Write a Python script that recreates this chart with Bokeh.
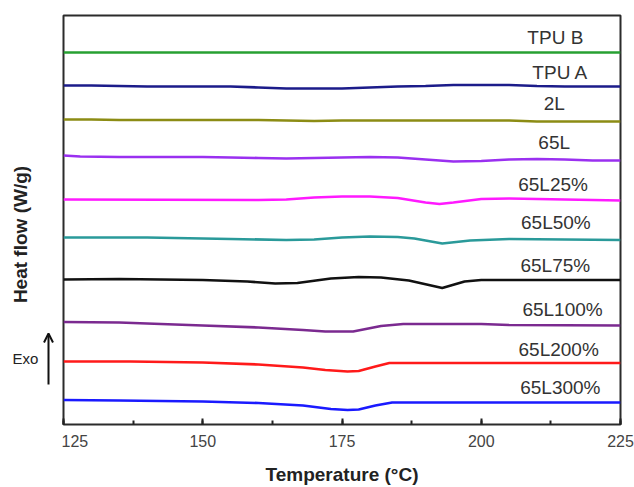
import math
from bokeh.plotting import figure
from bokeh.layouts import row
from bokeh.models import (Range1d, SingleIntervalTicker, Arrow, OpenHead, ColumnDataSource)
from bokeh.core.properties import value
from bokeh.embed import file_html
from bokeh.resources import INLINE

# ---- data (heat-flow traces, arbitrary units, stacked; larger = lower) ----
names = ["TPU B", "TPU A", "2L", "65L", "65L25%", "65L50%", "65L75%",
         "65L100%", "65L200%", "65L300%"]

tpub_t = [125, 225]
tpub_v = [52, 52]

tpua_t = [125, 130, 135, 140, 150, 155, 160, 165, 170, 175, 180, 185, 190, 195, 200, 205, 210, 215, 225]
tpua_v = [85, 85, 85.5, 86, 86, 86, 87, 88, 88, 88, 87, 86, 85.5, 84.5, 84.5, 84.5, 85.5, 86, 86]

l2_t = [125, 130, 135, 160, 165, 170, 175, 205, 210, 225]
l2_v = [119, 119, 119.5, 119.5, 120, 120.5, 120, 120, 121, 121]

l65_t = [125, 128, 135, 150, 155, 160, 165, 170, 175, 180, 185, 190, 195, 200, 205, 210, 215, 220, 225]
l65_v = [155, 156, 156.5, 156.5, 157, 157.5, 158, 157.5, 157, 156.5, 157, 159, 161, 160.5, 159, 158.5, 159, 160, 160]

l25_t = [125, 160, 165, 170, 175, 180, 185, 190, 192.5, 195, 200, 205, 210, 215, 220, 225]
l25_v = [199, 199.5, 199, 197, 196, 196, 197.5, 202, 203.5, 202, 198.5, 198, 198.5, 199, 199.5, 200]

l50_t = [125, 140, 145, 155, 165, 170, 175, 180, 185, 188, 193, 198, 205, 215, 225]
l50_v = [237, 237, 237.5, 238.5, 239.5, 239, 237, 236, 236.5, 238, 243, 240, 238.5, 239, 239.5]

l75_t = [125, 135, 150, 158, 163, 167, 173, 178, 182, 187, 193, 197, 200, 225]
l75_v = [279, 278.5, 279.5, 281, 283, 282.5, 278, 276.5, 277, 280, 287.5, 281, 279.5, 279.5]

l100_t = [125, 135, 150, 160, 168, 172, 177, 182, 186, 200, 205, 225]
l100_v = [321.5, 322, 325, 327, 329.5, 331, 331, 325.5, 323.5, 323.5, 324.5, 325]

l200_t = [125, 137, 150, 160, 168, 172, 176, 178, 181, 183.5, 225]
l200_v = [361, 361, 362, 364, 367, 369.5, 371, 370.5, 366, 362.5, 362.5]

l300_t = [125, 135, 150, 160, 168, 173, 176, 178, 181, 184, 225]
l300_v = [399.5, 400, 401, 402.5, 405, 408.5, 409.5, 409, 405, 402, 402]

series_t = [tpub_t, tpua_t, l2_t, l65_t, l25_t, l50_t, l75_t, l100_t, l200_t, l300_t]
series_v = [tpub_v, tpua_v, l2_v, l65_v, l25_v, l50_v, l75_v, l100_v, l200_v, l300_v]

x_ticks = [125, 150, 175, 200, 225]

# ---- styling ----
colors = ["#27a032", "#1c1c8a", "#8c8c14", "#9a30f0", "#ff1aff", "#2a9a9a",
          "#111111", "#7b2a90", "#ff1a1a", "#1a1aff"]
label_x = [213.3, 214.2, 213.1, 213.1, 212.9, 213.4, 213.3, 214.6, 213.9, 214.2]
label_y = [37, 72, 103, 142, 184, 222, 265, 309, 349, 387]

FONT = "Liberation Sans"
TOP, BOTTOM = 15, 63

# ---- left strip: y title, "Exo" and arrow (same vertical frame as the main plot) ----
side = figure(width=61, height=487, output_backend="svg", toolbar_location=None,
              x_range=Range1d(0, 61), y_range=Range1d(424, 15),
              min_border_left=0, min_border_right=0, min_border_top=TOP,
              min_border_bottom=BOTTOM, x_axis_location=None, y_axis_location=None)
side.grid.visible = False
side.outline_line_color = None
side.background_fill_color = "white"
side.border_fill_color = "white"
side.text(x=[20], y=[234], text=["Heat flow (W/g)"], angle=math.pi / 2,
          text_align="center", text_baseline="middle", text_font=value(FONT),
          text_font_size="19px", text_font_style="bold", text_color="#222222")
side.text(x=[25], y=[358], text=["Exo"], text_align="center",
          text_baseline="middle", text_font=value(FONT),
          text_font_size="15px", text_color="#222222")
side.add_layout(Arrow(x_start=48, y_start=384, x_end=48, y_end=333,
                      line_color="#111111", line_width=2,
                      end=OpenHead(size=9, line_color="#111111", line_width=2)))

# ---- main plot ----
p = figure(width=573, height=487, output_backend="svg", toolbar_location=None,
           x_range=Range1d(125, 225), y_range=Range1d(424, 15),
           min_border_left=2, min_border_right=14, min_border_top=TOP,
           min_border_bottom=BOTTOM, y_axis_location=None)
p.background_fill_color = "white"
p.border_fill_color = "white"
p.grid.visible = False
p.outline_line_color = "#2b2b2b"
p.outline_line_width = 2

for t, v, c in zip(series_t, series_v, colors):
    p.line(t, v, line_color=c, line_width=2.6)

src = ColumnDataSource(dict(x=label_x, y=label_y, text=names))
p.text(x="x", y="y", text="text", source=src, text_font=value(FONT),
       text_font_size="19px", text_color="#333333", text_align="center",
       text_baseline="middle")

xa = p.xaxis[0]
xa.ticker = SingleIntervalTicker(interval=25, num_minor_ticks=2)
xa.major_label_overrides = {t: str(t) for t in x_ticks}
xa.axis_line_color = None
xa.major_tick_in = 6
xa.major_tick_out = 0
xa.minor_tick_in = 4
xa.minor_tick_out = 0
xa.major_tick_line_color = "#222222"
xa.minor_tick_line_color = "#222222"
xa.major_tick_line_width = 2
xa.minor_tick_line_width = 2
xa.major_label_standoff = 10
xa.major_label_text_font = FONT
xa.major_label_text_font_size = "16px"
xa.major_label_text_color = "#444444"
xa.axis_label = "Temperature (°C)"
xa.axis_label_text_font = FONT
xa.axis_label_text_font_size = "19px"
xa.axis_label_text_font_style = "bold"
xa.axis_label_text_color = "#222222"
xa.axis_label_standoff = 14

layout = row(side, p, spacing=0)
open("out.html", "w").write(file_html(layout, INLINE))
